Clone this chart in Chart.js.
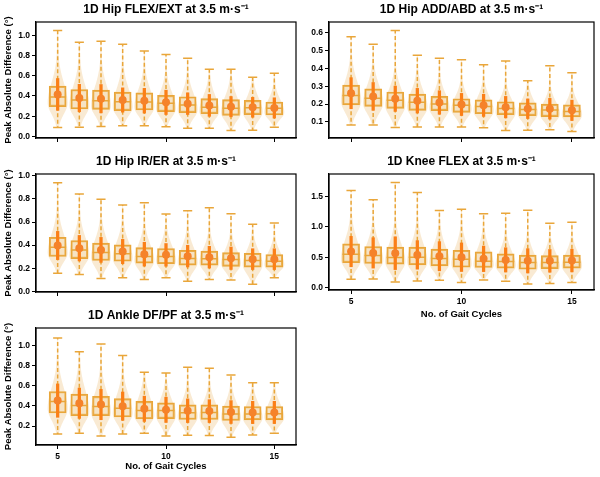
<!doctype html>
<html>
<head>
<script src="https://cdn.jsdelivr.net/npm/chart.js"></script>
<style>
  body { margin: 0; background: #fff; }
  #page { position: relative; width: 600px; height: 477px; overflow: hidden; }
  #page canvas { position: absolute; }
</style>
</head>
<body>
<div id="page">
  <canvas id="cFlex"></canvas>
  <canvas id="cAdd"></canvas>
  <canvas id="cRot"></canvas>
  <canvas id="cKnee"></canvas>
  <canvas id="cAnkle"></canvas>
</div>
<script>
// number of gait cycles (x positions)
const cycles = [5, 6, 7, 8, 9, 10, 11, 12, 13, 14, 15];
const xTicks = [5, 10, 15];

// Hip FLEX/EXT
const flexMin  = [0.088, 0.090, 0.098, 0.105, 0.105, 0.095, 0.082, 0.082, 0.059, 0.062, 0.092];
const flexQ1   = [0.294, 0.271, 0.268, 0.255, 0.261, 0.245, 0.235, 0.225, 0.209, 0.216, 0.212];
const flexMed  = [0.390, 0.360, 0.353, 0.343, 0.340, 0.327, 0.310, 0.288, 0.278, 0.284, 0.278];
const flexQ3   = [0.497, 0.464, 0.457, 0.438, 0.431, 0.405, 0.392, 0.373, 0.363, 0.356, 0.340];
const flexMax  = [1.046, 0.930, 0.940, 0.910, 0.843, 0.810, 0.771, 0.663, 0.663, 0.585, 0.624];
const flexMean = [0.415, 0.380, 0.373, 0.360, 0.353, 0.337, 0.324, 0.307, 0.294, 0.288, 0.282];
const flexSd   = [0.157, 0.135, 0.140, 0.120, 0.122, 0.120, 0.107, 0.108, 0.100, 0.098, 0.100];
const flexTicks = [0.0, 0.2, 0.4, 0.6, 0.8, 1.0];

// Hip ADD/ABD
const addMin  = [0.083, 0.083, 0.069, 0.072, 0.072, 0.072, 0.067, 0.052, 0.054, 0.056, 0.047];
const addQ1   = [0.196, 0.187, 0.176, 0.165, 0.163, 0.154, 0.146, 0.141, 0.135, 0.130, 0.128];
const addMed  = [0.248, 0.233, 0.222, 0.211, 0.200, 0.194, 0.187, 0.176, 0.170, 0.167, 0.159];
const addQ3   = [0.306, 0.285, 0.268, 0.256, 0.243, 0.230, 0.224, 0.213, 0.207, 0.200, 0.196];
const addMax  = [0.578, 0.535, 0.613, 0.474, 0.457, 0.448, 0.420, 0.441, 0.331, 0.415, 0.376];
const addMean = [0.261, 0.243, 0.230, 0.219, 0.209, 0.198, 0.193, 0.183, 0.174, 0.174, 0.165];
const addSd   = [0.087, 0.078, 0.071, 0.069, 0.066, 0.062, 0.062, 0.060, 0.055, 0.058, 0.057];
const addTicks = [0.1, 0.2, 0.3, 0.4, 0.5, 0.6];

// Hip IR/ER
const rotMin  = [0.158, 0.147, 0.112, 0.118, 0.103, 0.118, 0.089, 0.103, 0.098, 0.063, 0.118];
const rotQ1   = [0.302, 0.284, 0.267, 0.261, 0.244, 0.239, 0.227, 0.227, 0.216, 0.210, 0.210];
const rotMed  = [0.382, 0.359, 0.336, 0.325, 0.302, 0.302, 0.284, 0.282, 0.276, 0.267, 0.261];
const rotQ3   = [0.468, 0.440, 0.417, 0.402, 0.379, 0.371, 0.356, 0.348, 0.336, 0.330, 0.319];
const rotMax  = [0.940, 0.842, 0.796, 0.747, 0.767, 0.670, 0.698, 0.724, 0.672, 0.580, 0.592];
const rotMean = [0.397, 0.374, 0.359, 0.345, 0.322, 0.316, 0.305, 0.296, 0.287, 0.279, 0.279];
const rotSd   = [0.122, 0.110, 0.108, 0.105, 0.103, 0.098, 0.094, 0.094, 0.097, 0.090, 0.090];
const rotTicks = [0.0, 0.2, 0.4, 0.6, 0.8, 1.0];

// Knee FLEX
const kneeMin  = [0.137, 0.143, 0.093, 0.110, 0.121, 0.082, 0.126, 0.104, 0.060, 0.066, 0.082];
const kneeQ1   = [0.412, 0.396, 0.385, 0.374, 0.357, 0.335, 0.330, 0.319, 0.302, 0.313, 0.319];
const kneeMed  = [0.549, 0.527, 0.495, 0.500, 0.478, 0.467, 0.434, 0.429, 0.412, 0.412, 0.418];
const kneeQ3   = [0.720, 0.676, 0.665, 0.665, 0.632, 0.615, 0.588, 0.555, 0.533, 0.527, 0.533];
const kneeMax  = [1.599, 1.445, 1.731, 1.566, 1.269, 1.291, 1.214, 1.225, 1.275, 1.060, 1.077];
const kneeMean = [0.593, 0.571, 0.566, 0.538, 0.516, 0.500, 0.473, 0.456, 0.440, 0.440, 0.445];
const kneeSd   = [0.250, 0.250, 0.270, 0.235, 0.240, 0.235, 0.210, 0.200, 0.200, 0.187, 0.187];
const kneeTicks = [0.0, 0.5, 1.0, 1.5];

// Ankle DF/PF
const ankleMin  = [0.123, 0.129, 0.103, 0.123, 0.129, 0.103, 0.110, 0.106, 0.090, 0.113, 0.129];
const ankleQ1   = [0.329, 0.303, 0.303, 0.290, 0.271, 0.274, 0.265, 0.265, 0.255, 0.261, 0.261];
const ankleMed  = [0.442, 0.403, 0.394, 0.377, 0.355, 0.355, 0.332, 0.335, 0.319, 0.319, 0.323];
const ankleQ3   = [0.542, 0.516, 0.494, 0.471, 0.445, 0.429, 0.410, 0.410, 0.397, 0.394, 0.394];
const ankleMax  = [1.071, 0.935, 1.013, 0.897, 0.732, 0.726, 0.781, 0.771, 0.706, 0.629, 0.629];
const ankleMean = [0.452, 0.426, 0.413, 0.397, 0.371, 0.361, 0.352, 0.348, 0.339, 0.335, 0.335];
const ankleSd   = [0.165, 0.150, 0.150, 0.140, 0.125, 0.125, 0.117, 0.113, 0.113, 0.110, 0.110];
const ankleTicks = [0.2, 0.4, 0.6, 0.8, 1.0];

const FONT = "'Liberation Sans', Arial, sans-serif";
const EDGE = '#e9a63a';
const VIOLIN = 'rgba(240, 200, 140, 0.38)';
const BOXFILL = 'rgba(240, 215, 170, 0.35)';
const SDCOL = '#fb7f17';
const MEANCOL = '#f5822a';
const VIOLIN_HALF = 0.46;
const CAP_HALF = 0.21;
const BOX_HALF = 0.39;

function makeParts(s) {
  return {
    id: 'boxparts',
    beforeDatasetsDraw(chart) {
      const ctx = chart.ctx, xs = chart.scales.x, ys = chart.scales.y, a = chart.chartArea;
      ctx.save();
      ctx.beginPath();
      ctx.rect(a.left, a.top, a.right - a.left, a.bottom - a.top);
      ctx.clip();
      // violins
      cycles.forEach((c, i) => {
        const mn = s.min[i], mx = s.max[i];
        const peak = s.q1[i] + 0.4 * (s.med[i] - s.q1[i]);
        const sLo = (peak - mn) / 2.2;
        const sHi = 1.2 * (s.q3[i] - peak);
        const n = 60, left = [], right = [];
        for (let k = 0; k <= n; k++) {
          const v = mn + (mx - mn) * k / n;
          const z = (v - peak) / (v < peak ? sLo : sHi);
          const w = VIOLIN_HALF * (0.04 + 0.96 * Math.exp(-0.5 * z * z));
          const py = ys.getPixelForValue(v);
          left.push([xs.getPixelForValue(c - w), py]);
          right.push([xs.getPixelForValue(c + w), py]);
        }
        ctx.beginPath();
        left.forEach((p, k) => k ? ctx.lineTo(p[0], p[1]) : ctx.moveTo(p[0], p[1]));
        right.reverse().forEach(p => ctx.lineTo(p[0], p[1]));
        ctx.closePath();
        ctx.fillStyle = VIOLIN;
        ctx.fill();
      });
      // whiskers and caps
      ctx.strokeStyle = EDGE;
      ctx.lineWidth = 1.5;
      cycles.forEach((c, i) => {
        const px = xs.getPixelForValue(c);
        ctx.setLineDash([4, 2.5]);
        ctx.beginPath();
        ctx.moveTo(px, ys.getPixelForValue(s.q3[i]));
        ctx.lineTo(px, ys.getPixelForValue(s.max[i]));
        ctx.moveTo(px, ys.getPixelForValue(s.q1[i]));
        ctx.lineTo(px, ys.getPixelForValue(s.min[i]));
        ctx.stroke();
        ctx.setLineDash([]);
        ctx.beginPath();
        [s.max[i], s.min[i]].forEach(v => {
          const py = ys.getPixelForValue(v);
          ctx.moveTo(xs.getPixelForValue(c - CAP_HALF), py);
          ctx.lineTo(xs.getPixelForValue(c + CAP_HALF), py);
        });
        ctx.stroke();
      });
      ctx.restore();
    },
    beforeDatasetDraw(chart, args) {
      if (args.index !== 1) return;
      // medians, over the box fill, under the SD line
      const ctx = chart.ctx, xs = chart.scales.x, ys = chart.scales.y;
      ctx.save();
      ctx.strokeStyle = EDGE;
      ctx.lineWidth = 1.5;
      ctx.beginPath();
      cycles.forEach((c, i) => {
        const py = ys.getPixelForValue(s.med[i]);
        ctx.moveTo(xs.getPixelForValue(c - BOX_HALF), py);
        ctx.lineTo(xs.getPixelForValue(c + BOX_HALF), py);
      });
      ctx.stroke();
      ctx.restore();
    },
    afterDraw(chart) {
      const a = chart.chartArea, ctx = chart.ctx;
      ctx.save();
      ctx.strokeStyle = '#000';
      ctx.lineWidth = 1.2;
      ctx.strokeRect(a.left, a.top, a.right - a.left, a.bottom - a.top);
      ctx.restore();
    }
  };
}

function panel(id, box, cfg) {
  const cv = document.getElementById(id);
  cv.width = box.cw; cv.height = box.ch;
  cv.style.left = box.cx + 'px'; cv.style.top = box.cy + 'px';
  const s = cfg.stats;
  const titleSize = 12, titleLine = titleSize * 1.2;
  const titleSpace = box.pt - box.cy;
  // box width in pixels: 0.78 of the spacing between cycles
  const boxPx = Math.round(2 * BOX_HALF * (box.pr - box.pl) / 12);
  new Chart(cv, {
    type: 'bar',
    data: {
      datasets: [
        {
          type: 'scatter',
          data: cycles.map((c, i) => ({ x: c, y: s.mean[i] })),
          pointRadius: 4, pointBackgroundColor: MEANCOL, pointBorderWidth: 0
        },
        {
          type: 'bar', grouped: false,
          data: cycles.map((c, i) => ({ x: c, y: [s.mean[i] - s.sd[i], s.mean[i] + s.sd[i]] })),
          backgroundColor: SDCOL, borderWidth: 0, barThickness: 2.6
        },
        {
          type: 'bar', grouped: false,
          data: cycles.map((c, i) => ({ x: c, y: [s.q1[i], s.q3[i]] })),
          backgroundColor: BOXFILL, borderColor: EDGE, borderWidth: 1.5, borderSkipped: false,
          barThickness: boxPx
        }
      ]
    },
    options: {
      responsive: false,
      animation: false,
      layout: { padding: { right: box.cx + box.cw - box.pr, top: 0, left: 0, bottom: 0 } },
      plugins: {
        legend: { display: false },
        tooltip: { enabled: false },
        title: {
          display: true, text: cfg.title, color: '#000', fullSize: false,
          font: { family: FONT, size: titleSize, weight: 'bold' },
          padding: { top: titleSpace - titleLine - 5, bottom: 5 }
        }
      },
      scales: {
        x: {
          type: 'linear', min: 4, max: 16, offset: false,
          afterBuildTicks: sc => { sc.ticks = xTicks.map(v => ({ value: v })); },
          afterFit: sc => { sc.height = box.cy + box.ch - box.pb; },
          grid: { display: true, drawOnChartArea: false, drawTicks: true, tickLength: 4, color: '#000', offset: false },
          border: { display: true, color: '#000', width: 1.2 },
          ticks: {
            display: cfg.xLabels, color: '#000', padding: 3, maxRotation: 0,
            font: { family: FONT, size: 8.5, weight: 'bold' }
          },
          title: {
            display: cfg.xLabels, text: 'No. of Gait Cycles', color: '#000',
            font: { family: FONT, size: 9.5, weight: 'bold' }, padding: { top: 0, bottom: 5 }
          }
        },
        y: {
          type: 'linear', min: cfg.yRange[0], max: cfg.yRange[1],
          afterBuildTicks: sc => { sc.ticks = cfg.yTicks.map(v => ({ value: v })); },
          afterFit: sc => { sc.width = box.pl - box.cx; },
          grid: { display: true, drawOnChartArea: false, drawTicks: true, tickLength: 4, color: '#000' },
          border: { display: true, color: '#000', width: 1.2 },
          ticks: {
            color: '#000', padding: 2,
            font: { family: FONT, size: 8.5, weight: 'bold' },
            callback: v => v.toFixed(1)
          },
          title: {
            display: cfg.yLabel, text: 'Peak Absolute Difference (°)', color: '#000',
            font: { family: FONT, size: 9.5, weight: 'bold' }, padding: { top: 3, bottom: 0 }
          }
        }
      }
    },
    plugins: [makeParts(s)]
  });
}

panel('cFlex', { cx: 0, cy: 0, cw: 300, ch: 150, pl: 36, pt: 22, pr: 299, pb: 138 }, {
  title: '1D Hip FLEX/EXT at 3.5 m·s⁻¹', yLabel: true, xLabels: false,
  yRange: [-0.015, 1.13], yTicks: flexTicks,
  stats: { min: flexMin, q1: flexQ1, med: flexMed, q3: flexQ3, max: flexMax, mean: flexMean, sd: flexSd }
});
panel('cAdd', { cx: 300, cy: 0, cw: 300, ch: 150, pl: 329, pt: 22, pr: 594, pb: 138 }, {
  title: '1D Hip ADD/ABD at 3.5 m·s⁻¹', yLabel: false, xLabels: false,
  yRange: [0.01, 0.66], yTicks: addTicks,
  stats: { min: addMin, q1: addQ1, med: addMed, q3: addQ3, max: addMax, mean: addMean, sd: addSd }
});
panel('cRot', { cx: 0, cy: 150, cw: 300, ch: 155, pl: 36, pt: 174, pr: 299, pb: 292 }, {
  title: '1D Hip IR/ER at 3.5 m·s⁻¹', yLabel: true, xLabels: false,
  yRange: [-0.005, 1.015], yTicks: rotTicks,
  stats: { min: rotMin, q1: rotQ1, med: rotMed, q3: rotQ3, max: rotMax, mean: rotMean, sd: rotSd }
});
panel('cKnee', { cx: 300, cy: 150, cw: 300, ch: 175, pl: 329, pt: 174, pr: 594, pb: 290 }, {
  title: '1D Knee FLEX at 3.5 m·s⁻¹', yLabel: false, xLabels: true,
  yRange: [-0.04, 1.87], yTicks: kneeTicks,
  stats: { min: kneeMin, q1: kneeQ1, med: kneeMed, q3: kneeQ3, max: kneeMax, mean: kneeMean, sd: kneeSd }
});
panel('cAnkle', { cx: 0, cy: 305, cw: 300, ch: 172, pl: 36, pt: 328, pr: 299, pb: 445 }, {
  title: '1D Ankle DF/PF at 3.5 m·s⁻¹', yLabel: true, xLabels: true,
  yRange: [0.013, 1.17], yTicks: ankleTicks,
  stats: { min: ankleMin, q1: ankleQ1, med: ankleMed, q3: ankleQ3, max: ankleMax, mean: ankleMean, sd: ankleSd }
});
</script>
</body>
</html>
